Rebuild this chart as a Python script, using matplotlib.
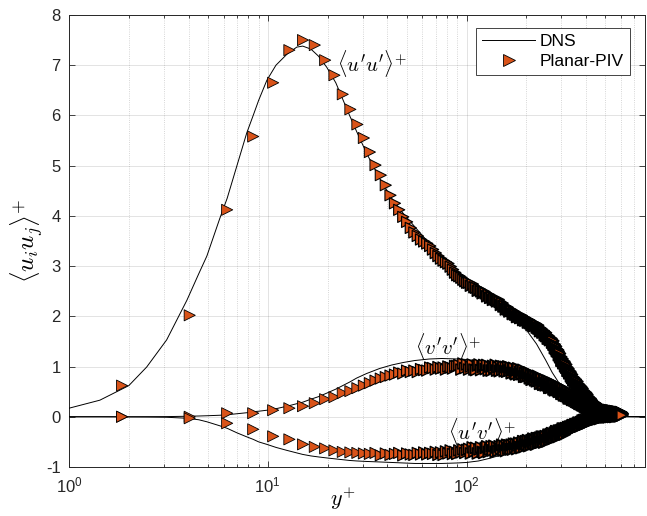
import numpy as np
import matplotlib
matplotlib.use("Agg")
import matplotlib.pyplot as plt
from matplotlib.lines import Line2D

plt.rcParams['font.family'] = ['Liberation Sans', 'DejaVu Sans']
plt.rcParams['mathtext.fontset'] = 'custom'
plt.rcParams['mathtext.rm'] = 'Liberation Sans'
plt.rcParams['mathtext.it'] = 'Liberation Sans:italic'
plt.rcParams['mathtext.bf'] = 'Liberation Sans:bold'

# ---------------- DNS reference profiles ----------------
dns_yplus = [1.0, 1.43, 2.0, 2.46, 3.1, 3.92, 4.5, 4.94, 5.74, 6.25, 7.0, 7.84, 8.45, 9.0, 9.9,
             11.0, 12.5, 14.0, 15.0, 16.5, 18.0, 19.8, 22.0, 25.8, 28.0, 31.4, 36.5, 42, 48, 55,
             65, 75, 90, 100, 115, 130, 150, 170, 185, 200, 225, 250, 270, 300, 330, 360, 400,
             440, 800]
dns_uu = [0.17, 0.33, 0.62, 0.99, 1.53, 2.32, 2.85, 3.2, 3.95, 4.35, 5.0, 5.65, 6.0, 6.3, 6.7,
          7.0, 7.22, 7.36, 7.38, 7.32, 7.18, 6.96, 6.65, 6.0, 5.68, 5.25, 4.75, 4.35, 4.05, 3.78,
          3.45, 3.2, 2.9, 2.75, 2.55, 2.38, 2.2, 2.05, 1.9, 1.73, 1.45, 1.13, 0.88, 0.6, 0.36,
          0.2, 0.07, 0.01, 0.0]
dns_vv = [0.0, 0.0, 0.0, 0.001, 0.003, 0.01, 0.015, 0.02, 0.03, 0.04, 0.06, 0.08, 0.10, 0.11,
          0.13, 0.16, 0.21, 0.26, 0.29, 0.35, 0.40, 0.47, 0.55, 0.69, 0.77, 0.86, 0.96, 1.03,
          1.08, 1.12, 1.15, 1.16, 1.15, 1.14, 1.11, 1.07, 1.0, 0.9, 0.8, 0.72, 0.6, 0.5, 0.42,
          0.3, 0.2, 0.12, 0.06, 0.01, 0.0]
dns_uv = [0.0, 0.0, -0.003, -0.005, -0.01, -0.03, -0.06, -0.1, -0.18, -0.23, -0.32, -0.4, -0.45,
          -0.5, -0.55, -0.61, -0.67, -0.72, -0.75, -0.78, -0.8, -0.82, -0.84, -0.87, -0.88,
          -0.89, -0.9, -0.91, -0.92, -0.93, -0.93, -0.93, -0.92, -0.91, -0.88, -0.83, -0.76,
          -0.68, -0.62, -0.56, -0.46, -0.37, -0.3, -0.2, -0.12, -0.06, -0.02, 0.0, 0.0]

# ---------------- Planar-PIV (uniform vector grid in y+) ----------------
piv_yplus = 1.85 + 2.2 * np.arange(276)

piv_uu = [0.62, 2.02, 4.12, 5.58, 6.65, 7.30, 7.50, 7.40, 7.10, 6.80, 6.42, 6.12, 5.82, 5.55, 5.27,
          5.01, 4.81, 4.61, 4.41, 4.25, 4.12, 3.98, 3.88, 3.76, 3.67, 3.60, 3.53, 3.49, 3.45, 3.40,
          3.33, 3.26, 3.20, 3.15, 3.11, 3.08, 3.05, 2.99, 2.93, 2.87, 2.82, 2.80, 2.77, 2.73, 2.70,
          2.67,
          2.67, 2.61, 2.64, 2.58, 2.57, 2.51, 2.54, 2.50, 2.46, 2.49,
          2.46, 2.40, 2.43, 2.37, 2.38, 2.33, 2.36, 2.33, 2.30, 2.33,
          2.29, 2.23, 2.26, 2.20, 2.20, 2.14, 2.18, 2.14, 2.10, 2.13,
          2.11, 2.05, 2.09, 2.04, 2.04, 1.99, 2.03, 2.00, 1.97, 2.01,
          1.98, 1.93, 1.97, 1.92, 1.93,
          1.93, 1.88, 1.92, 1.87, 1.88, 1.83, 1.87, 1.84, 1.81, 1.85, 1.83, 1.78, 1.82, 1.76, 1.77,
          1.71, 1.75, 1.71, 1.68, 1.71, 1.69, 1.63, 1.67, 1.61, 1.62, 1.56, 1.60, 1.56, 1.53, 1.56,
          1.54, 1.48,
          1.51, 1.44, 1.44, 1.37, 1.40, 1.35, 1.31, 1.33, 1.30, 1.23, 1.26, 1.19, 1.19, 1.12, 1.15,
          1.11, 1.07, 1.10, 1.07, 1.01, 1.04, 0.98, 0.98, 0.92, 0.95, 0.91, 0.87, 0.90, 0.87, 0.81,
          0.84, 0.78,
          0.79, 0.73, 0.77, 0.73, 0.70, 0.74, 0.71, 0.66, 0.70, 0.64, 0.65, 0.59, 0.63, 0.60, 0.56,
          0.60, 0.58, 0.52, 0.56,
          0.51, 0.52, 0.46, 0.50, 0.47, 0.44, 0.48, 0.46, 0.40, 0.44, 0.39, 0.40, 0.35, 0.38, 0.35,
          0.32, 0.36, 0.34, 0.29, 0.32, 0.27, 0.28,
          0.23, 0.28, 0.25, 0.22, 0.27, 0.25, 0.20, 0.25, 0.20, 0.21, 0.17, 0.21, 0.18, 0.16, 0.20,
          0.18, 0.14, 0.18, 0.14, 0.15, 0.11, 0.15, 0.13,
          0.15, 0.11, 0.14, 0.12, 0.13,
          0.14, 0.10, 0.13, 0.11, 0.14, 0.10, 0.12, 0.13,
          0.13, 0.09, 0.12, 0.10, 0.13, 0.09, 0.11, 0.12,
          0.12, 0.08, 0.11, 0.09, 0.12, 0.08, 0.10, 0.11,
          0.11, 0.07, 0.10, 0.08, 0.11, 0.07, 0.09, 0.10,
          0.10, 0.06, 0.09, 0.07, 0.10, 0.06, 0.08, 0.09, 0.08, 0.07,
          0.09, 0.05, 0.08, 0.06, 0.09, 0.05, 0.07, 0.08, 0.07, 0.06]

piv_vv = [0.00, 0.00, 0.07, 0.07, 0.13, 0.17, 0.21, 0.27, 0.35, 0.39, 0.47, 0.51, 0.57, 0.62, 0.67,
          0.72, 0.76, 0.79, 0.82, 0.84,
          0.88, 0.86, 0.92, 0.89, 0.92, 0.89, 0.95, 0.93, 0.92, 0.98, 0.97, 0.94, 0.99, 0.96, 0.98,
          0.94, 1.00, 0.98, 0.96, 1.01, 1.01,
          1.03, 0.94, 1.06, 0.97, 1.04, 0.94, 1.00, 1.04, 0.94, 0.93, 1.02, 1.04, 0.93, 0.99, 1.03,
          0.95, 1.03, 0.92, 1.00, 0.92, 1.01, 0.97, 1.03, 0.92, 0.99, 0.91, 1.01, 0.94, 1.00, 0.91,
          0.99, 0.90, 1.00, 0.92, 0.98, 0.87, 0.93, 0.97, 0.87, 0.85, 0.93, 0.96, 0.84, 0.89,
          0.93, 0.85, 0.93, 0.80, 0.87, 0.80, 0.88, 0.82, 0.88, 0.77, 0.84, 0.74, 0.84, 0.77, 0.82,
          0.73, 0.80, 0.71, 0.81, 0.72, 0.78,
          0.66, 0.73, 0.76, 0.66, 0.64, 0.72, 0.74, 0.63, 0.67, 0.71, 0.63, 0.71, 0.58, 0.66, 0.58,
          0.66, 0.61, 0.67, 0.55, 0.63, 0.53, 0.64,
          0.56, 0.61, 0.53, 0.60, 0.50, 0.60, 0.52, 0.58, 0.46, 0.52, 0.56, 0.46, 0.43, 0.51, 0.54,
          0.42, 0.46, 0.50, 0.42, 0.50, 0.37, 0.44, 0.37, 0.45, 0.39, 0.46, 0.34,
          0.41, 0.34, 0.39, 0.40, 0.33, 0.34, 0.39, 0.30, 0.34, 0.36, 0.29, 0.36, 0.29, 0.26, 0.33,
          0.29, 0.33, 0.25, 0.29, 0.23, 0.29, 0.25, 0.29, 0.21, 0.25, 0.19, 0.25,
          0.25, 0.18, 0.23, 0.25, 0.17, 0.19, 0.23, 0.15, 0.19, 0.21, 0.14, 0.21, 0.15, 0.12, 0.19,
          0.15, 0.19, 0.12, 0.16, 0.10, 0.17, 0.12, 0.17,
          0.15, 0.11, 0.14, 0.12, 0.10,
          0.14, 0.10, 0.13, 0.11, 0.14, 0.09, 0.12,
          0.13, 0.09, 0.12, 0.10, 0.13, 0.08, 0.11,
          0.12, 0.08, 0.11, 0.09, 0.13, 0.08, 0.10, 0.11,
          0.11, 0.07, 0.10, 0.08, 0.12, 0.07, 0.09, 0.10,
          0.10, 0.06, 0.09, 0.07, 0.11, 0.06, 0.08, 0.09, 0.08,
          0.09, 0.05, 0.08, 0.06, 0.10, 0.05, 0.07, 0.08, 0.07,
          0.08, 0.04, 0.07, 0.05, 0.09, 0.04, 0.06, 0.07, 0.06,
          0.07, 0.03, 0.06, 0.04, 0.08, 0.03, 0.05, 0.06, 0.05]

piv_uv = [0.00, -0.03, -0.13, -0.25, -0.39, -0.45, -0.55, -0.60, -0.63, -0.67, -0.70, -0.71, -0.72,
          -0.73, -0.74,
          -0.72, -0.77, -0.73, -0.76, -0.74, -0.72, -0.77, -0.73, -0.75, -0.76, -0.72, -0.75, -0.71,
          -0.75, -0.72, -0.74,
          -0.70, -0.76, -0.71, -0.76, -0.69, -0.73, -0.67, -0.74, -0.70, -0.74, -0.67, -0.71, -0.65,
          -0.72, -0.66,
          -0.64, -0.73, -0.61, -0.69, -0.62, -0.73, -0.65,
          -0.61, -0.70, -0.72, -0.62, -0.59, -0.70, -0.65, -0.59, -0.67, -0.58, -0.70, -0.61, -0.68,
          -0.59, -0.64, -0.56, -0.67, -0.59, -0.68, -0.56, -0.63, -0.57, -0.65, -0.56, -0.65,
          -0.54, -0.61, -0.54, -0.64, -0.57, -0.52, -0.61, -0.62, -0.53, -0.49, -0.60, -0.54, -0.49,
          -0.56, -0.47, -0.58, -0.50, -0.56, -0.47, -0.51, -0.44, -0.54, -0.46, -0.55, -0.43, -0.50,
          -0.43, -0.51, -0.42, -0.51, -0.40, -0.47, -0.40, -0.51, -0.43, -0.39,
          -0.47, -0.49, -0.39, -0.36, -0.46, -0.40, -0.35, -0.42, -0.33, -0.44, -0.36, -0.42, -0.32,
          -0.37, -0.29, -0.40, -0.31, -0.40, -0.28, -0.35, -0.28, -0.36, -0.27, -0.36, -0.24, -0.32,
          -0.24, -0.35, -0.27, -0.23,
          -0.24, -0.30, -0.24, -0.21, -0.28, -0.25, -0.20, -0.27, -0.22, -0.19, -0.25, -0.17, -0.23,
          -0.24, -0.17, -0.19, -0.15, -0.21, -0.16, -0.21, -0.14, -0.17, -0.12, -0.18, -0.14, -0.19,
          -0.12, -0.11, -0.17, -0.11, -0.08, -0.15, -0.13, -0.07, -0.15, -0.10, -0.07, -0.13,
          -0.08, -0.13, -0.08, -0.06, -0.10, -0.08, -0.05, -0.10, -0.06, -0.05, -0.08, -0.03, -0.07,
          -0.08, -0.03, -0.05, -0.01, -0.06, -0.03, -0.06, -0.01, -0.03, 0.01,
          0.00, -0.05, -0.01, 0.02, -0.03, -0.01, 0.02, -0.04, 0.01, 0.02, -0.02, 0.03, -0.01,
          -0.02, 0.03, 0.01, 0.04, -0.01, 0.03, -0.01, 0.04, 0.01, 0.05,
          0.04, -0.01, 0.03, 0.05, 0.00, 0.02, 0.05, -0.01, 0.03, 0.04,
          0.01, 0.06, 0.02, 0.00, 0.05, 0.03, 0.06, 0.01, 0.04, 0.00, 0.05, 0.02, 0.06, 0.01, 0.04,
          0.03, 0.00, 0.06, 0.02,
          0.06, 0.02, 0.07, 0.03, 0.01, 0.06, 0.04, 0.07, 0.02, 0.05, 0.01, 0.06, 0.03, 0.07, 0.02,
          0.05, 0.04, 0.06, 0.03]

x_ticks = [1, 10, 100]
x_ticklabels = [r'$10^{0}$', r'$10^{1}$', r'$10^{2}$']
y_ticks = list(range(-1, 9))
y_ticklabels = [str(v) for v in y_ticks]

series_labels = [r"$\langle u'u'\rangle^{+}$", r"$\langle v'v'\rangle^{+}$", r"$\langle u'v'\rangle^{+}$"]
label_pos = [(22.2, 7.04), (54.8, 1.39), (80.3, -0.29)]

# ---------------- figure ----------------
fig = plt.figure(figsize=(6.47, 5.16), dpi=100)
ax = fig.add_axes([0.1066, 0.095, 0.8902, 0.876])

piv_color = '#D95319'
edge_col = '#262626'

for vals in (dns_uu, dns_vv, dns_uv):
    ax.plot(dns_yplus, vals, color='black', lw=0.7, zorder=3)
line_handle = ax.lines[0]

# marker outline gets heavier where the PIV vectors crowd together on the log axis
edge_w = np.interp(np.log10(piv_yplus), [1.4, 2.0, 2.3], [0.6, 1.1, 1.45])
for vals in (piv_uu, piv_vv, piv_uv):
    ax.scatter(piv_yplus, vals, s=64, marker='>', facecolors=piv_color,
               edgecolors='black', linewidths=edge_w, zorder=4)
piv_handle = Line2D([], [], linestyle='none', marker='>', markersize=8,
                    markerfacecolor=piv_color, markeredgecolor='black', markeredgewidth=0.6)

ax.set_xscale('log')
ax.set_xlim(1, 790)
ax.set_ylim(-1, 8)
ax.set_xticks(x_ticks)
ax.set_xticklabels(x_ticklabels)
ax.set_yticks(y_ticks)
ax.set_yticklabels(y_ticklabels)

ax.tick_params(which='both', direction='in', top=True, right=True, colors=edge_col,
               labelcolor='#262626', labelsize=12, width=0.6)
ax.tick_params(which='major', length=4.5, pad=6)
ax.tick_params(which='minor', length=2.5)
for s in ax.spines.values():
    s.set_color(edge_col)
    s.set_linewidth(0.7)

ax.grid(True, which='major', axis='both', color='#262626', alpha=0.15, lw=0.6, ls='-')
ax.grid(True, which='minor', axis='x', color='#262626', alpha=0.25, lw=0.6, ls=':')
ax.set_axisbelow(True)

ax.set_xlabel(r'$y^{+}$', fontsize=16, math_fontfamily='cm')
ax.xaxis.set_label_coords(0.475, -0.042)
ax.set_ylabel(r'$\langle u_i u_j\rangle^{+}$', fontsize=18, math_fontfamily='cm', labelpad=0)

for txt, (xp, yp) in zip(series_labels, label_pos):
    ax.text(xp, yp, txt, fontsize=15, math_fontfamily='cm', ha='left', va='center',
            color='black', zorder=5)

leg = ax.legend([line_handle, piv_handle], ['DNS', 'Planar-PIV'], loc='upper right',
                bbox_to_anchor=(0.974, 0.971), fontsize=12.5, frameon=True, fancybox=False,
                framealpha=1, edgecolor='#262626', handlelength=3.0, numpoints=1,
                borderpad=0.35, labelspacing=0.25, handletextpad=0.3, borderaxespad=0)
leg.get_frame().set_linewidth(0.6)
leg.set_zorder(6)

fig.savefig('out.png', dpi=100)
